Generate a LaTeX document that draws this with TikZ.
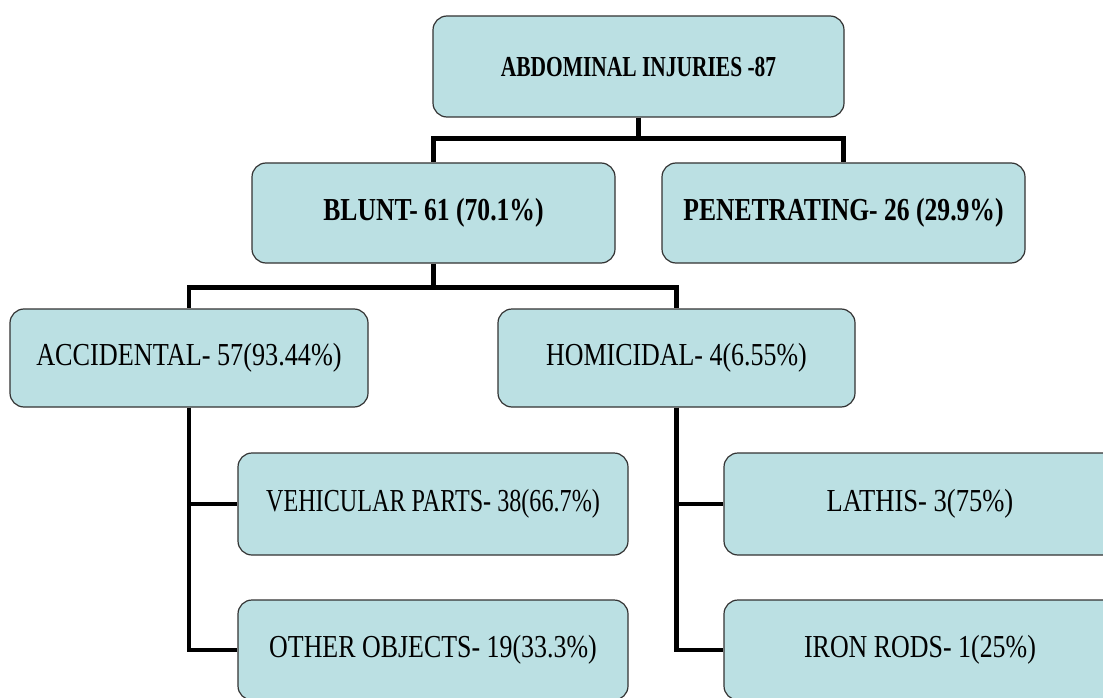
\documentclass[tikz,border=0pt]{standalone}
\usepackage{fontspec}
\setmainfont{Liberation Serif}
\usepackage{graphicx}
\definecolor{boxfill}{HTML}{BBE0E3}
\definecolor{boxline}{HTML}{333333}
\begin{document}
\begin{tikzpicture}[x=1pt,y=1pt,
  box/.style={draw=boxline, line width=1.2pt, fill=boxfill, rounded corners=14pt,
    inner sep=0pt, anchor=center},
  conn/.style={line width=4.5pt, black},
  nt/.style={font=\fontsize{32}{36}\selectfont},
  bt/.style={font=\fontsize{32}{36}\selectfont\bfseries},
  tt/.style={font=\fontsize{29}{33}\selectfont\bfseries}]
\useasboundingbox (0,0) rectangle (1103,-698);
\begin{scope}
\clip (0,0) rectangle (1103,-698);
\node[box, tt, minimum width=411, minimum height=101] (top) at (638.5,-66.5) {\scalebox{0.74}[1]{ABDOMINAL INJURIES -87}};
\node[box, bt, minimum width=363, minimum height=100] (blunt) at (433.5,-213) {\scalebox{0.8}[1]{BLUNT- 61 (70.1\%)}};
\node[box, bt, minimum width=363, minimum height=100] (pen) at (843.5,-213) {\scalebox{0.8}[1]{PENETRATING- 26 (29.9\%)}};
\node[box, nt, minimum width=358, minimum height=98] (acc) at (189,-358) {\scalebox{0.82}[1]{ACCIDENTAL- 57(93.44\%)}};
\node[box, nt, minimum width=357, minimum height=98] (hom) at (676.5,-358) {\scalebox{0.81}[1]{HOMICIDAL- 4(6.55\%)}};
\node[box, nt, minimum width=390, minimum height=102] (veh) at (433,-504) {\scalebox{0.755}[1]{VEHICULAR PARTS- 38(66.7\%)}};
\node[box, nt, minimum width=390, minimum height=100] (oth) at (433,-650) {\scalebox{0.81}[1]{OTHER OBJECTS- 19(33.3\%)}};
\node[box, nt, minimum width=392, minimum height=102] (lat) at (920,-504) {\scalebox{0.83}[1]{LATHIS- 3(75\%)}};
\node[box, nt, minimum width=392, minimum height=100] (iron) at (920,-650) {\scalebox{0.81}[1]{IRON RODS- 1(25\%)}};
\draw[conn] (top.south) -- ++(0,-21) coordinate (j1) -| (blunt.north);
\draw[conn] (j1) -| (pen.north);
\draw[conn] (blunt.south) -- ++(0,-24) coordinate (j2) -| (acc.north);
\draw[conn] (j2) -| (hom.north);
\draw[conn] (acc.south) |- (veh.west);
\draw[conn] (acc.south) |- (oth.west);
\draw[conn] (hom.south) |- (lat.west);
\draw[conn] (hom.south) |- (iron.west);
\end{scope}
\end{tikzpicture}
\end{document}
